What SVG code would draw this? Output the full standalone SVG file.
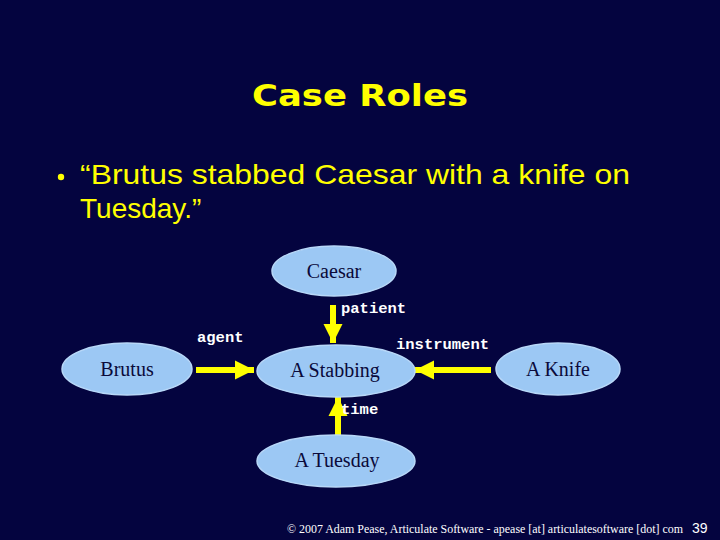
<svg xmlns="http://www.w3.org/2000/svg" width="720" height="540" viewBox="0 0 720 540">
<defs>
<style>
.node{fill:#9cc8f4;stroke:#b8d8f8;stroke-width:1.5}
.lbl{font-family:"Liberation Serif","Times New Roman",serif;font-size:20px;fill:#0a0a3a;text-anchor:middle}
.role{font-family:"Liberation Mono","Courier New",monospace;font-size:15.5px;fill:#ffffff;font-weight:bold}
.arr{stroke:#ffff00;stroke-width:6;fill:none}
</style>
<marker id="ah" viewBox="0 0 10 10" refX="10" refY="5" markerWidth="3.2" markerHeight="3.2" markerUnits="strokeWidth" orient="auto">
<path d="M0,0 L10,5 L0,10 Z" fill="#ffff00"/>
</marker>
</defs>
<rect width="720" height="540" fill="#04043f"/>
<text x="360" y="106" font-family="DejaVu Sans,Verdana,sans-serif" font-weight="bold" font-size="31" fill="#ffff00" text-anchor="middle" textLength="216" lengthAdjust="spacingAndGlyphs">Case Roles</text>
<circle cx="61" cy="177" r="3.2" fill="#ffff00"/>
<text x="80" y="184" font-family="Liberation Sans,Arial,sans-serif" font-size="28" fill="#ffff00" textLength="550" lengthAdjust="spacingAndGlyphs">“Brutus stabbed Caesar with a knife on</text>
<text x="80" y="218" font-family="Liberation Sans,Arial,sans-serif" font-size="28" fill="#ffff00">Tuesday.”</text>
<g id="connectors">
<line class="arr" x1="333" y1="305" x2="333" y2="343" marker-end="url(#ah)"/>
<line class="arr" x1="196" y1="370" x2="254" y2="370" marker-end="url(#ah)"/>
<line class="arr" x1="491" y1="370" x2="415" y2="370" marker-end="url(#ah)"/>
<line class="arr" x1="338" y1="436" x2="338" y2="397" marker-end="url(#ah)"/>
<text class="role" x="341" y="313">patient</text>
<text class="role" x="197" y="342">agent</text>
<text class="role" x="396" y="349">instrument</text>
<text class="role" x="341" y="414">time</text>
</g>
<g id="caesar"><ellipse class="node" cx="334" cy="271" rx="62" ry="25"/><text class="lbl" x="334" y="278">Caesar</text></g>
<g id="brutus"><ellipse class="node" cx="127" cy="369" rx="65" ry="26"/><text class="lbl" x="127" y="376">Brutus</text></g>
<g id="stabbing"><ellipse class="node" cx="336" cy="371" rx="79" ry="26"/><text class="lbl" x="335" y="377">A Stabbing</text></g>
<g id="knife"><ellipse class="node" cx="558" cy="369" rx="62" ry="26"/><text class="lbl" x="558" y="376">A Knife</text></g>
<g id="tuesday"><ellipse class="node" cx="336" cy="461" rx="79" ry="26"/><text class="lbl" x="337" y="467" font-size="18">A Tuesday</text></g>
<text x="287" y="533" font-family="Liberation Serif,Times New Roman,serif" font-size="12" fill="#ffffff" textLength="396" lengthAdjust="spacingAndGlyphs">© 2007 Adam Pease, Articulate Software - apease [at] articulatesoftware [dot] com</text>
<text x="692" y="533" font-family="Liberation Sans,Arial,sans-serif" font-size="14" fill="#ffffff">39</text>
</svg>
